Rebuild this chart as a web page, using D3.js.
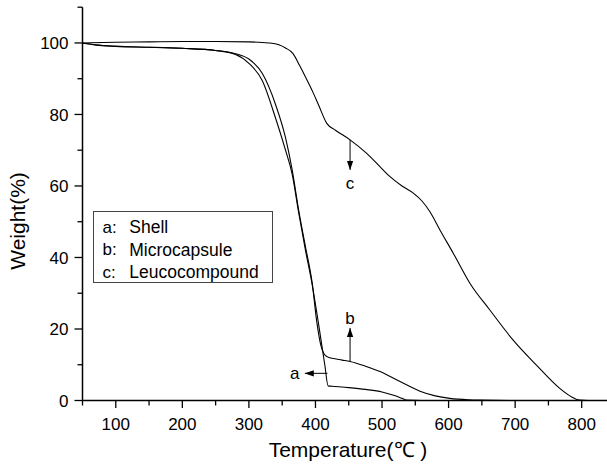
<!DOCTYPE html>
<html>
<head>
<meta charset="utf-8">
<script src="https://cdn.jsdelivr.net/npm/d3@7"></script>
<style>
  body { margin: 0; background: #fff; }
  svg { display: block; font-family: Arial, "Liberation Sans", sans-serif; }
</style>
</head>
<body>
<div id="chart"></div>
<script>
const width = 607,
    height = 464

// curve a: Shell
const tempA = [50, 70, 100, 150, 200, 250, 280, 300, 320, 340, 355, 365, 375, 385, 395, 405, 414, 419, 425, 450, 475, 500, 520, 530, 537, 560, 600, 700, 840]
const weightA = [99.9, 99.4, 99.0, 98.8, 98.5, 97.9, 96.8, 94.3, 89.5, 79, 70, 63.3, 52.3, 42, 32.5, 21, 10, 4.1, 4.0, 3.6, 3.1, 2.4, 1.3, 0.6, 0.1, 0, 0, 0, 0]

// curve b: Microcapsule
const tempB = [50, 70, 100, 150, 200, 250, 280, 300, 320, 340, 355, 365, 375, 385, 395, 402, 408, 413, 418, 425, 440, 452, 475, 497, 527, 557, 580, 602, 630, 647, 700, 840]
const weightB = [100, 99.5, 99.1, 98.8, 98.5, 97.9, 97.0, 95.5, 91.5, 82.8, 73.5, 64.5, 53, 43, 33, 22, 15.5, 13, 12.2, 11.8, 11.3, 10.9, 9.6, 8.1, 5.3, 2.6, 1.3, 0.6, 0.2, 0.1, 0, 0]

// curve c: Leucocompound
const tempC = [50, 100, 150, 200, 250, 300, 330, 345, 355, 366, 377, 385, 397, 405, 417, 430, 452, 477, 500, 512, 530, 547, 560, 572, 587, 607, 632, 662, 697, 732, 767, 785, 797, 810, 840]
const weightC = [100, 100.2, 100.3, 100.4, 100.4, 100.3, 100.0, 99.5, 98.6, 97.1, 93.4, 90.5, 85.9, 82.5, 77.5, 75.6, 72.9, 69.1, 64.8, 62.6, 60, 58, 55.8, 52.8, 47.7, 41.2, 32.8, 25.3, 16.9, 9.9, 3.4, 1.0, 0.1, 0, 0]

const xTicks = [100, 200, 300, 400, 500, 600, 700, 800]
const yTicks = [0, 20, 40, 60, 80, 100]
const legendKeys = ['a:', 'b:', 'c:']
const legendNames = ['Shell', 'Microcapsule', 'Leucocompound']

// arrows: start on the curve, point to the label
const arrows = [
  { label: 'a', x1: 418, y1: 7.6, x2: 384, y2: 7.6, lx: 369, ly: 7.6 },
  { label: 'b', x1: 452, y1: 10.9, x2: 452, y2: 20.3, lx: 452, ly: 23 },
  { label: 'c', x1: 452, y1: 72.9, x2: 452, y2: 64.5, lx: 452, ly: 61 }
]

const x = d3.scaleLinear().domain([50, 838]).range([82.5, 607])
const y = d3.scaleLinear().domain([0, 110]).range([400.5, 7.2])

const svg = d3.select('#chart')
  .append('svg')
    .attr('width', width)
    .attr('height', height)

svg.append('defs').append('marker')
    .attr('id', 'head')
    .attr('viewBox', '0 0 10 10')
    .attr('refX', 10)
    .attr('refY', 5)
    .attr('markerWidth', 9)
    .attr('markerHeight', 9)
    .attr('markerUnits', 'userSpaceOnUse')
    .attr('orient', 'auto')
  .append('path')
    .attr('d', 'M0,1.5L10,5L0,8.5Z')
    .attr('fill', '#000')

// axes
const xAxis = svg.append('g')
  .attr('transform', `translate(0, ${y(0)})`)
xAxis.append('line')
  .attr('x1', x(50)).attr('x2', x(838))
  .attr('stroke', '#000').attr('stroke-width', 1.5)
xAxis.selectAll('.minor')
  .data(d3.range(50, 851, 100))
  .join('line')
  .attr('x1', d => x(d)).attr('x2', d => x(d))
  .attr('y1', 0).attr('y2', 5)
  .attr('stroke', '#000').attr('stroke-width', 1.3)
xAxis.selectAll('.major')
  .data(xTicks)
  .join('line')
  .attr('x1', d => x(d)).attr('x2', d => x(d))
  .attr('y1', 0).attr('y2', 7.5)
  .attr('stroke', '#000').attr('stroke-width', 1.3)
xAxis.selectAll('text')
  .data(xTicks)
  .join('text')
  .attr('x', d => x(d))
  .attr('y', 29)
  .attr('text-anchor', 'middle')
  .style('font-size', '17px')
  .text(d => d)

const yAxis = svg.append('g')
  .attr('transform', `translate(${x(50)}, 0)`)
yAxis.append('line')
  .attr('y1', y(0)).attr('y2', y(110))
  .attr('stroke', '#000').attr('stroke-width', 1.5)
yAxis.selectAll('.minor')
  .data(d3.range(10, 111, 20))
  .join('line')
  .attr('y1', d => y(d)).attr('y2', d => y(d))
  .attr('x1', 0).attr('x2', -5)
  .attr('stroke', '#000').attr('stroke-width', 1.3)
yAxis.selectAll('.major')
  .data(yTicks)
  .join('line')
  .attr('y1', d => y(d)).attr('y2', d => y(d))
  .attr('x1', 0).attr('x2', -8)
  .attr('stroke', '#000').attr('stroke-width', 1.3)
yAxis.selectAll('text')
  .data(yTicks)
  .join('text')
  .attr('x', -14)
  .attr('y', d => y(d))
  .attr('dy', '0.36em')
  .attr('text-anchor', 'end')
  .style('font-size', '17px')
  .text(d => d)

svg.append('text')
  .attr('x', 348)
  .attr('y', 457)
  .attr('text-anchor', 'middle')
  .style('font-size', '21px')
  .text('Temperature(\u2103 )')

svg.append('text')
  .attr('transform', 'translate(25, 221) rotate(-90)')
  .attr('text-anchor', 'middle')
  .style('font-size', '21px')
  .text('Weight(%)')

// curves
const line = d3.line()
  .x(d => x(d[0]))
  .y(d => y(d[1]))
  .curve(d3.curveMonotoneX)

const series = [
  d3.zip(tempA, weightA),
  d3.zip(tempB, weightB),
  d3.zip(tempC, weightC)
]

svg.selectAll('.curve')
  .data(series)
  .join('path')
  .attr('class', 'curve')
  .attr('d', line)
  .attr('fill', 'none')
  .attr('stroke', '#000')
  .attr('stroke-width', 1.1)

// arrows and labels
svg.selectAll('.arrow')
  .data(arrows)
  .join('line')
  .attr('class', 'arrow')
  .attr('x1', d => x(d.x1)).attr('y1', d => y(d.y1))
  .attr('x2', d => x(d.x2)).attr('y2', d => y(d.y2))
  .attr('stroke', '#000')
  .attr('stroke-width', 1)
  .attr('marker-end', 'url(#head)')

svg.selectAll('.alabel')
  .data(arrows)
  .join('text')
  .attr('class', 'alabel')
  .attr('x', d => x(d.lx))
  .attr('y', d => y(d.ly))
  .attr('dy', '0.36em')
  .attr('text-anchor', 'middle')
  .style('font-size', '17px')
  .text(d => d.label)

// legend
const legend = svg.append('g')
legend.append('rect')
  .attr('x', 93.5).attr('y', 211.5)
  .attr('width', 179).attr('height', 71)
  .attr('fill', '#fff')
  .attr('stroke', '#444')
  .attr('stroke-width', 1)
legend.selectAll('.key')
  .data(legendKeys)
  .join('text')
  .attr('class', 'key')
  .attr('x', 102.5)
  .attr('y', (d, i) => 226.7 + i * 22.5)
  .attr('dy', '0.36em')
  .style('font-size', '17px')
  .text(d => d)
legend.selectAll('.name')
  .data(legendNames)
  .join('text')
  .attr('class', 'name')
  .attr('x', 129.3)
  .attr('y', (d, i) => 226.7 + i * 22.5)
  .attr('dy', '0.36em')
  .style('font-size', '17.5px')
  .text(d => d)
</script>
</body>
</html>
